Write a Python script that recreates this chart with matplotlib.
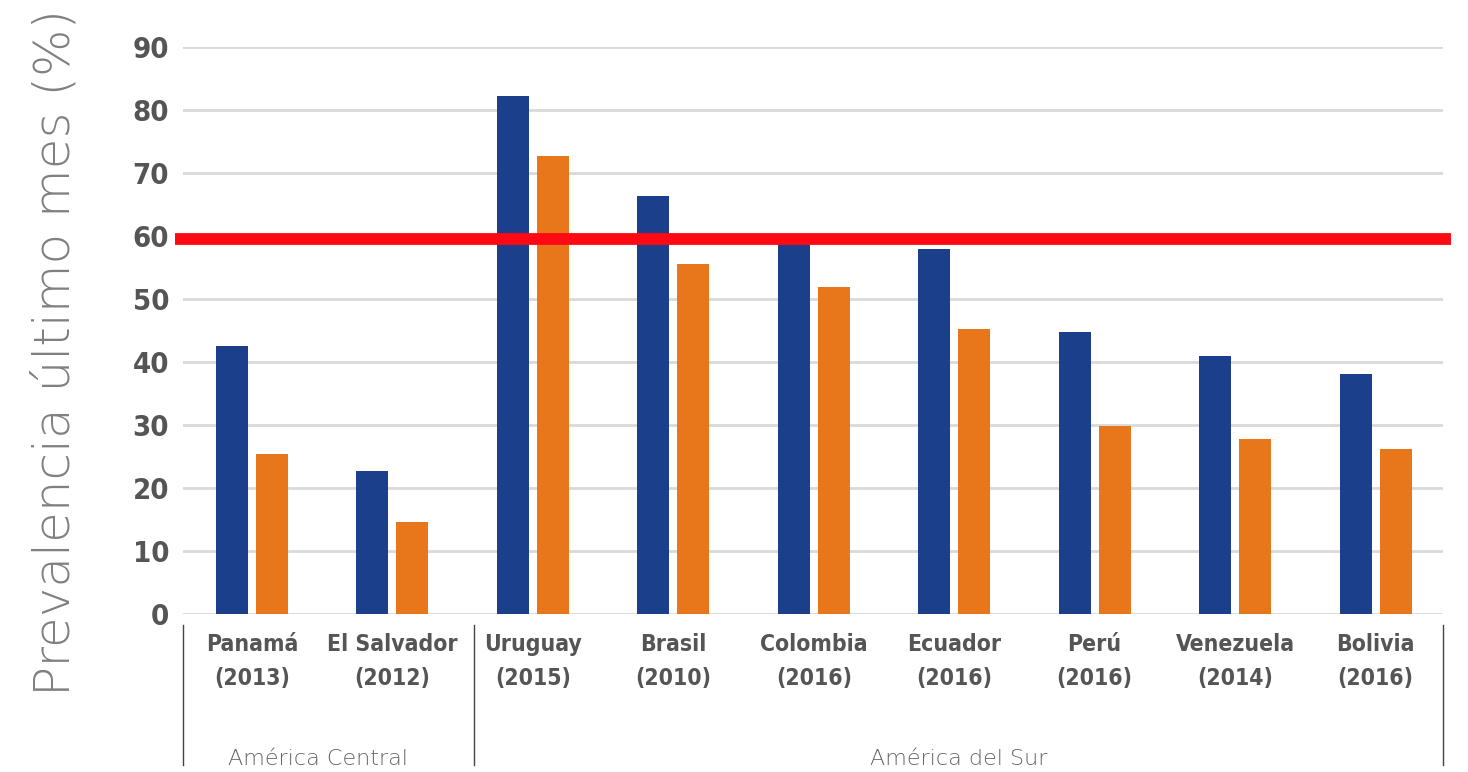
import numpy as np
import matplotlib.pyplot as plt
import matplotlib.transforms as transforms

countries = ['Panamá', 'El Salvador', 'Uruguay', 'Brasil', 'Colombia',
             'Ecuador', 'Perú', 'Venezuela', 'Bolivia']
years = ['2013', '2012', '2015', '2010', '2016', '2016', '2016', '2014', '2016']
serie_azul = [42.5, 22.7, 82.2, 66.3, 59.0, 57.9, 44.8, 41.0, 38.1]
serie_naranja = [25.4, 14.6, 72.7, 55.6, 51.9, 45.2, 29.8, 27.8, 26.2]
umbral = 59.5
regiones = ['América Central', 'América del Sur']

AZUL = '#1c3f8c'
NARANJA = '#e8761a'
GRIS = '#555555'

fig = plt.figure(figsize=(14.68, 7.72), dpi=100)
ax = fig.add_axes([0.1247, 0.2047, 0.983 - 0.1247, 0.939 - 0.2047])

x = np.arange(len(countries))
w = 0.228
ax.bar(x - 0.142, serie_azul, w, color=AZUL, zorder=3)
ax.bar(x + 0.142, serie_naranja, w, color=NARANJA, zorder=3)

ax.set_xlim(-0.49, 8.48)
ax.set_ylim(0, 90)
ax.set_yticks(np.arange(0, 91, 10))
ax.grid(axis='y', color='#d9d9d9', linewidth=2, zorder=0)
for s in ax.spines.values():
  s.set_visible(False)
ax.tick_params(axis='both', length=0)
ax.tick_params(axis='y', pad=10)
for lab in ax.get_yticklabels():
  lab.set_fontsize(21)
  lab.set_fontweight('bold')
  lab.set_color(GRIS)
  lab.set_fontstretch('condensed')

ax.set_xticks(x)
ax.set_xticklabels(['{}\n({})'.format(c, y) for c, y in zip(countries, years)],
                   fontsize=16.5, fontweight='bold', color=GRIS,
                   fontstretch='condensed', linespacing=1.6)
ax.tick_params(axis='x', pad=14)

# red threshold line, a bit wider than the axes
ax.plot([-0.55, 8.54], [umbral, umbral], color='#ff0a14', linewidth=8.5,
        solid_capstyle='butt', clip_on=False, zorder=5)

# group separators under the axis
trans = transforms.blended_transform_factory(ax.transData, ax.transAxes)
for xs in [-0.49, 1.58, 8.48]:
  ax.plot([xs, xs], [-0.02, -0.266], color='#444444', linewidth=1,
          transform=trans, clip_on=False)
ax.text(0.47, -0.255, regiones[0], transform=trans, ha='center', va='center',
        fontsize=16, color='#666666', fontweight='light')
ax.text(5.03, -0.255, regiones[1], transform=trans, ha='center', va='center',
        fontsize=16, color='#666666', fontweight='light')

fig.text(0.038, 0.544, 'Prevalencia último mes (%)', rotation=90,
         ha='center', va='center', fontsize=36, color='#808080',
         fontweight='light')

fig.savefig('out.png', dpi=100)
